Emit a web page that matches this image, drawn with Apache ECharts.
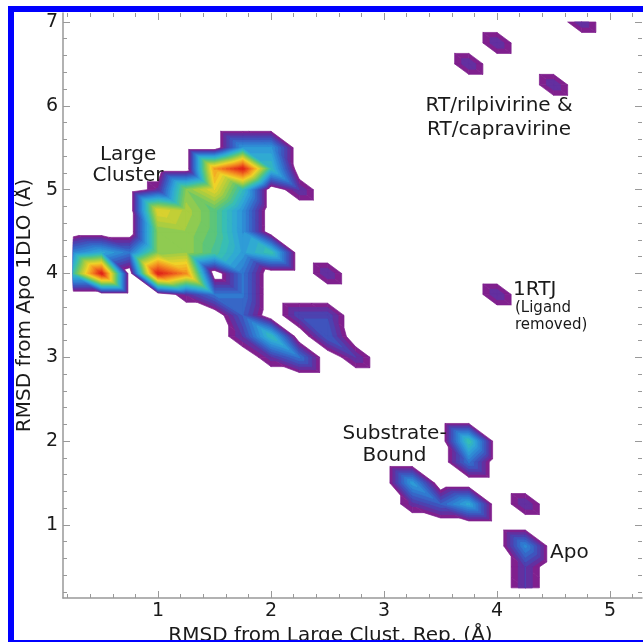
<!DOCTYPE html>
<html><head><meta charset="utf-8">
<script src="https://cdn.jsdelivr.net/npm/echarts@6/dist/echarts.min.js"></script>
<style>html,body{margin:0;padding:0;background:#fff}#c{width:643px;height:642px}</style>
</head><body><div id="c"></div>
<script>
// ---- data ----
const xNodes = [0.25,0.5,0.75,1.0,1.25,1.5,1.75,2.0,2.25,2.5,2.75,3.0,3.25,3.5,3.75,4.0,4.25,4.5,4.75,5.0,5.25];
const yNodes = [7.0,6.75,6.5,6.25,6.0,5.75,5.5,5.25,5.0,4.75,4.5,4.25,4.0,3.75,3.5,3.25,3.0,2.75,2.5,2.25,2.0,1.75,1.5,1.25,1.0,0.75,0.5,0.25];
// density at grid nodes, rows follow yNodes (top to bottom), columns follow xNodes
const density = [
/*7.00*/[0,0,0,0,0,0,0,0,0,0,0,0,0,0,0,0,0,0,1,0,0],
/*6.75*/[0,0,0,0,0,0,0,0,0,0,0,0,0,0,0,1,0,0,0,0,0],
/*6.50*/[0,0,0,0,0,0,0,0,0,0,0,0,0,0,1,0,0,0,0,0,0],
/*6.25*/[0,0,0,0,0,0,0,0,0,0,0,0,0,0,0,0,0,1,0,0,0],
/*6.00*/[0,0,0,0,0,0,0,0,0,0,0,0,0,0,0,0,0,0,0,0,0],
/*5.75*/[0,0,0,0,0,0,0,0,0,0,0,0,0,0,0,0,0,0,0,0,0],
/*5.50*/[0,0,0,0,0,0,2.3,2.3,0,0,0,0,0,0,0,0,0,0,0,0,0],
/*5.25*/[0,0,0,0,0,5.8,7.5,3,0,0,0,0,0,0,0,0,0,0,0,0,0],
/*5.00*/[0,0,0,0.8,4,5,3,0,1,0,0,0,0,0,0,0,0,0,0,0,0],
/*4.75*/[0,0,0,5,4.4,3.6,2.2,0,0,0,0,0,0,0,0,0,0,0,0,0,0],
/*4.50*/[0,0,0,4,4.2,3.6,2.2,0,0,0,0,0,0,0,0,0,0,0,0,0,0],
/*4.25*/[2,2.6,1.8,4,4.2,3.4,2.4,3.2,0,0,0,0,0,0,0,0,0,0,0,0,0],
/*4.00*/[3.2,7.5,0,7.5,6,0,1.8,0,0,1,0,0,0,0,0,0,0,0,0,0,0],
/*3.75*/[0,0,0,0,0.8,1.8,1.8,0,0,0,0,0,0,0,0,1,0,0,0,0,0],
/*3.50*/[0,0,0,0,0,0,1.5,0,1.2,1.2,0,0,0,0,0,0,0,0,0,0,0],
/*3.25*/[0,0,0,0,0,0,1.0,3,0,1.5,0,0,0,0,0,0,0,0,0,0,0],
/*3.00*/[0,0,0,0,0,0,0,0.9,1.8,0,1,0,0,0,0,0,0,0,0,0,0],
/*2.75*/[0,0,0,0,0,0,0,0,0,0,0,0,0,0,0,0,0,0,0,0,0],
/*2.50*/[0,0,0,0,0,0,0,0,0,0,0,0,0,0,0,0,0,0,0,0,0],
/*2.25*/[0,0,0,0,0,0,0,0,0,0,0,0,0,0,0,0,0,0,0,0,0],
/*2.00*/[0,0,0,0,0,0,0,0,0,0,0,0,0,0,3.2,0,0,0,0,0,0],
/*1.75*/[0,0,0,0,0,0,0,0,0,0,0,0,0,0,1.8,0,0,0,0,0,0],
/*1.50*/[0,0,0,0,0,0,0,0,0,0,0,0,2.4,0,0,0,0,0,0,0,0],
/*1.25*/[0,0,0,0,0,0,0,0,0,0,0,0,0.85,1.5,2.6,0,1,0,0,0,0],
/*1.00*/[0,0,0,0,0,0,0,0,0,0,0,0,0,0,0,0,0,0,0,0,0],
/*0.75*/[0,0,0,0,0,0,0,0,0,0,0,0,0,0,0,0,2.1,0,0,0,0],
/*0.50*/[0,0,0,0,0,0,0,0,0,0,0,0,0,0,0,0,1,0,0,0,0],
/*0.25*/[0,0,0,0,0,0,0,0,0,0,0,0,0,0,0,0,1,0,0,0,0]
];
const contourLevels = [0.5,0.75,1.0,1.25,1.5,1.75,2.0,2.25,2.5,2.75,3.0,3.25,3.5,3.75,4.0,4.25,4.5,4.75,5.0,5.25,5.5,5.75,6.0,6.25,6.5,6.75,7.0,7.25];
const xTickLabels = [1,2,3,4,5];
const xMinorTicks = [0.2,0.4,0.6,0.8,1.2,1.4,1.6,1.8,2.2,2.4,2.6,2.8,3.2,3.4,3.6,3.8,4.2,4.4,4.6,4.8,5.2];
const yTickLabels = [1,2,3,4,5,6,7];
const yMinorTicks = [0.2,0.4,0.6,0.8,1.2,1.4,1.6,1.8,2.2,2.4,2.6,2.8,3.2,3.4,3.6,3.8,4.2,4.4,4.6,4.8,5.2,5.4,5.6,5.8,6.2,6.4,6.6,6.8];
const annotationText = ['Large\nCluster','RT/rilpivirine &\nRT/capravirine','1RTJ','(Ligand\nremoved)','Substrate-\nBound','Apo'];
const annotationX = [0.735,4.018,4.142,4.159,3.093,4.469];
const annotationY = [5.294,5.861,3.803,3.484,1.960,0.666];

// ---- style ----
const FONT = 'DejaVu Sans';
const annStyle = [
  {size:20, lh:21, align:'center'},
  {size:20, lh:24, align:'center'},
  {size:20, lh:20, align:'left'},
  {size:15, lh:16.5, align:'left'},
  {size:20, lh:22, align:'center'},
  {size:20, lh:20, align:'left'}
];
const cmapStops = [
  [0.5,[128,32,142]],[0.9,[82,58,170]],[1.3,[60,88,192]],[1.8,[48,126,210]],
  [2.4,[46,166,216]],[3.0,[56,190,180]],[3.6,[100,198,110]],[4.3,[176,206,60]],
  [5.0,[240,210,40]],[5.8,[244,150,34]],[6.6,[236,86,30]],[7.4,[222,30,26]]
];
function cmap(v){
  if (v <= cmapStops[0][0]) return 'rgb('+cmapStops[0][1].join(',')+')';
  for (let k=1;k<cmapStops.length;k++){
    if (v <= cmapStops[k][0]){
      const a=cmapStops[k-1], b=cmapStops[k], t=(v-a[0])/(b[0]-a[0]);
      return 'rgb('+[0,1,2].map(c=>Math.round(a[1][c]+t*(b[1][c]-a[1][c]))).join(',')+')';
    }
  }
  return 'rgb('+cmapStops[cmapStops.length-1][1].join(',')+')';
}
function clipPoly(poly, lv){
  const out=[];
  for (let k=0;k<poly.length;k++){
    const P=poly[k], Q=poly[(k+1)%poly.length];
    const pin=P[2]>=lv, qin=Q[2]>=lv;
    if (pin) out.push(P);
    if (pin!==qin){
      const t=(lv-P[2])/(Q[2]-P[2]);
      out.push([P[0]+t*(Q[0]-P[0]), P[1]+t*(Q[1]-P[1]), lv]);
    }
  }
  return out;
}
const cells=[];
for (let j=0;j<yNodes.length-1;j++) for (let i=0;i<xNodes.length-1;i++){
  const m=Math.max(density[j][i],density[j][i+1],density[j+1][i],density[j+1][i+1]);
  if (m>=contourLevels[0]) cells.push([xNodes[i],yNodes[j],i,j]);
}
const annData = annotationText.map((t,k)=>[annotationX[k],annotationY[k],k]);

const chart = echarts.init(document.getElementById('c'));
const axisGrey = '#999999';
const txt = '#1a1a1a';
const xMin=0.159, xMax=5.283, yMin=0.129, yMax=7.107;
function xAx(pos, vals, len, labels, extra){
  return Object.assign({type:'value', min:xMin, max:xMax, position:pos, splitLine:{show:false},
    axisLine:{show:false, lineStyle:{color:axisGrey,width:1.5}},
    axisTick:{show:true, inside:true, length:len, customValues:vals, lineStyle:{color:axisGrey,width:1}},
    axisLabel:{show:labels, customValues:vals, fontSize:19, color:txt, fontFamily:FONT, margin:4}}, extra||{});
}
function yAx(pos, vals, len, labels, extra){
  return Object.assign({type:'value', min:yMin, max:yMax, position:pos, splitLine:{show:false},
    axisLine:{show:false, lineStyle:{color:axisGrey,width:1.5}},
    axisTick:{show:true, inside:true, length:len, customValues:vals, lineStyle:{color:axisGrey,width:1}},
    axisLabel:{show:labels, customValues:vals, fontSize:19, color:txt, fontFamily:FONT, margin:5}}, extra||{});
}
chart.setOption({
  animation:false,
  backgroundColor:'#ffffff',
  grid:{left:63, right:1, top:13, bottom:44, containLabel:false, outerBoundsMode:'none'},
  xAxis:[
    xAx('bottom', xTickLabels, 7, true, {axisLine:{show:true,lineStyle:{color:axisGrey,width:1.5}},
      name:'RMSD from Large Clust. Rep. (Å)', nameLocation:'middle', nameGap:24,
      nameTextStyle:{fontSize:20, color:txt, fontFamily:FONT, padding:[0,44,0,0]}}),
    xAx('bottom', xMinorTicks, 4, false),
    xAx('top', xTickLabels, 7, false),
    xAx('top', xMinorTicks, 4, false)
  ],
  yAxis:[
    yAx('left', yTickLabels, 7, true, {axisLine:{show:true,lineStyle:{color:axisGrey,width:1.5}},
      name:'RMSD from Apo 1DLO (Å)', nameLocation:'middle', nameGap:18,
      nameTextStyle:{fontSize:20, color:txt, fontFamily:FONT}}),
    yAx('left', yMinorTicks, 4, false),
    yAx('right', yTickLabels, 7, false),
    yAx('right', yMinorTicks, 4, false)
  ],
  series:[
    {type:'custom', name:'density', xAxisIndex:0, yAxisIndex:0, data:cells, encode:{x:0,y:1}, clip:true, silent:true,
     renderItem:function(params, api){
       const i=api.value(2), j=api.value(3);
       const TL=api.coord([xNodes[i],yNodes[j]]), TR=api.coord([xNodes[i+1],yNodes[j]]);
       const BL=api.coord([xNodes[i],yNodes[j+1]]), BR=api.coord([xNodes[i+1],yNodes[j+1]]);
       const vTL=density[j][i], vTR=density[j][i+1], vBL=density[j+1][i], vBR=density[j+1][i+1];
       const tris=[[[BL[0],BL[1],vBL],[BR[0],BR[1],vBR],[TL[0],TL[1],vTL]],
                   [[TL[0],TL[1],vTL],[BR[0],BR[1],vBR],[TR[0],TR[1],vTR]]];
       const children=[];
       contourLevels.forEach(function(lv, li){
         const col=cmap(lv);
         for (const tri of tris){
           const poly=clipPoly(tri,lv);
           if (poly.length>=3) children.push({type:'polygon', z2:li, shape:{points:poly.map(p=>[p[0],p[1]])},
             style:{fill:col, stroke:col, lineWidth:0.7}});
         }
       });
       return {type:'group', children};
     }},
    {type:'custom', name:'annotations', xAxisIndex:0, yAxisIndex:0, data:annData, encode:{x:0,y:1}, silent:true, z:5,
     renderItem:function(params, api){
       const k=api.value(2), p=api.coord([api.value(0),api.value(1)]), s=annStyle[k];
       return {type:'text', x:p[0], y:p[1], style:{text:annotationText[k], fill:txt,
         font:s.size+'px "'+FONT+'"', lineHeight:s.lh, align:s.align, verticalAlign:'middle'}};
     }}
  ],
  graphic:[
    {type:'rect', left:8, top:6, shape:{width:6, height:636}, style:{fill:'#0000ff'}, z:100},
    {type:'rect', left:8, top:6, shape:{width:635, height:6}, style:{fill:'#0000ff'}, z:100},
    {type:'rect', left:8, top:640, shape:{width:635, height:2}, style:{fill:'#0000ff'}, z:100}
  ]
});
</script></body></html>
